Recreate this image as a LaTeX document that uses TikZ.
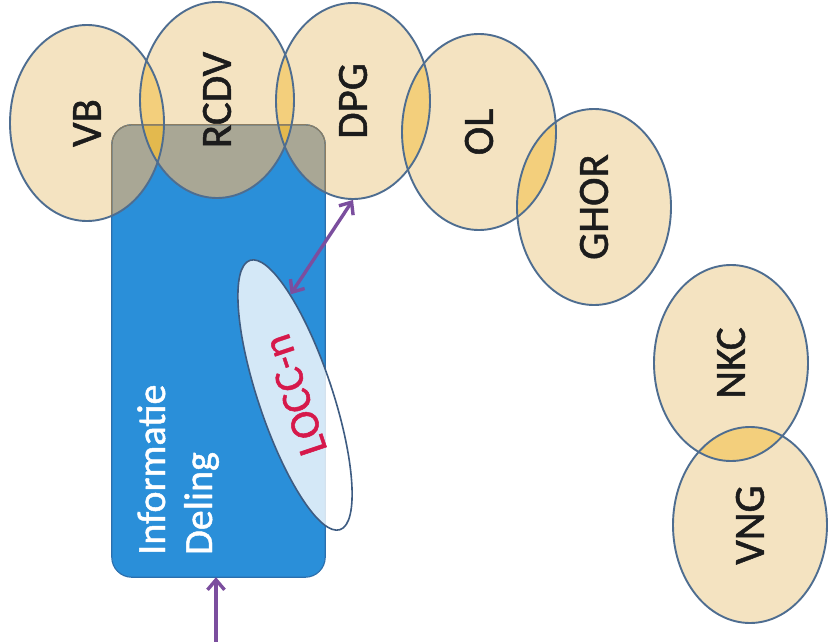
\documentclass[tikz,border=0pt]{standalone}
\usepackage{fontspec}
\setmainfont{Carlito}
\newfontfamily\heavyfont{Carlito}[FakeBold=1.2]
\usetikzlibrary{arrows.meta,shapes.geometric}
\definecolor{beige}{HTML}{F4E3C1}
\definecolor{ovout}{HTML}{F3CF7C}
\definecolor{ovin}{HTML}{E3B94E}
\definecolor{grayov}{HTML}{A9A795}
\definecolor{ovedge}{HTML}{4E6D90}
\definecolor{rectblue}{HTML}{2A8FD9}
\definecolor{rectedge}{HTML}{2A6FAE}
\definecolor{brownedge}{HTML}{8C7D62}
\definecolor{loccedge}{HTML}{3E5C82}
\definecolor{loccred}{HTML}{D6194B}
\definecolor{purp}{HTML}{7B4E9E}
\definecolor{labelblack}{HTML}{1C1C1C}
\tikzset{
  oval/.style={ellipse, draw=ovedge, line width=1.9pt, rotate=90,
    minimum width=196pt, minimum height=154pt, inner sep=0pt,
    text=labelblack, font=\heavyfont\fontsize{43}{50}\selectfont},
  infobox/.style={rectangle, rounded corners=20pt, fill=rectblue,
    minimum width=213pt, minimum height=452pt, inner sep=0pt},
  infotext/.style={text=white, font=\heavyfont\fontsize{40}{47}\selectfont, align=left,
    inner sep=0pt, rotate=90},
  locc/.style={ellipse, draw=loccedge, line width=1.6pt, fill=white,
    fill opacity=0.8, text opacity=1, rotate=108.5,
    minimum width=284pt, minimum height=74pt, inner sep=0pt,
    text=loccred, font=\heavyfont\fontsize{42}{48}\selectfont},
  parrow/.style={draw=purp, line width=3.4pt},
  tip/.tip={Straight Barb[length=10pt,width=17pt]}
}
\begin{document}
\begin{tikzpicture}[x=1pt,y=-1pt]
\useasboundingbox (0,0) rectangle (828,642);
\fill[white] (0,0) rectangle (828,642);
% ellipse centres
\coordinate (cVB) at (87,123);
\coordinate (cRCDV) at (217,100);
\coordinate (cDPG) at (353,101);
\coordinate (cOL) at (479,132);
\coordinate (cGHOR) at (594,207);
\coordinate (cNKC) at (731,363);
\coordinate (cVNG) at (750,525);
% beige fills
\foreach \c in {cVB,cRCDV,cDPG,cOL,cGHOR,cNKC,cVNG}
  \fill[beige] (\c) ellipse [x radius=77, y radius=98];
% blue box
\node[infobox] (box) at (218.5,351) {};
% grey where ellipses cover the box
\begin{scope}
  \clip[rounded corners=20pt] (box.north west) rectangle (box.south east);
  \foreach \c in {cVB,cRCDV,cDPG}
    \fill[grayov] (\c) ellipse [x radius=77, y radius=98];
\end{scope}
% overlaps
\foreach \a/\b in {cVB/cRCDV,cRCDV/cDPG,cDPG/cOL,cOL/cGHOR,cNKC/cVNG}{
  \begin{scope}
    \clip (\a) ellipse [x radius=77, y radius=98];
    \fill[ovout] (\b) ellipse [x radius=77, y radius=98];
  \end{scope}
}
\begin{scope}
  \clip[rounded corners=20pt] (box.north west) rectangle (box.south east);
  \foreach \a/\b in {cVB/cRCDV,cRCDV/cDPG}{
    \begin{scope}
      \clip (\a) ellipse [x radius=77, y radius=98];
      \fill[ovin] (\b) ellipse [x radius=77, y radius=98];
    \end{scope}
  }
\end{scope}
% box outline
\draw[rectedge, line width=1.2pt, rounded corners=20pt] (box.north west) rectangle (box.south east);
\foreach \c in {cVB,cRCDV,cDPG}{
  \begin{scope}
    \clip (\c) ellipse [x radius=77, y radius=98];
    \draw[brownedge, line width=1.2pt, rounded corners=20pt] (box.north west) rectangle (box.south east);
  \end{scope}
}
% ellipse outlines + labels
\node[oval] (VB) at (cVB) {VB};
\node[oval] (RCDV) at (cRCDV) {RCDV};
\node[oval] (DPG) at (cDPG) {DPG};
\node[oval] (OL) at (cOL) {OL};
\node[oval] (GHOR) at (cGHOR) {GHOR};
\node[oval] (NKC) at (cNKC) {NKC};
\node[oval] (VNG) at (cVNG) {VNG};
% text in box
\node[infotext, anchor=base west] (info) at (212,555) {Informatie\\Deling};
% LOCC-n
\node[locc] (LOCC) at (295,395) {LOCC-n};
% arrows
\draw[parrow, {tip}-{tip}] (DPG.west) -- (LOCC.-16);
\coordinate (src) at (216,642);
\draw[parrow, -{tip}] (src) -- (src |- box.south);
\end{tikzpicture}
\end{document}
